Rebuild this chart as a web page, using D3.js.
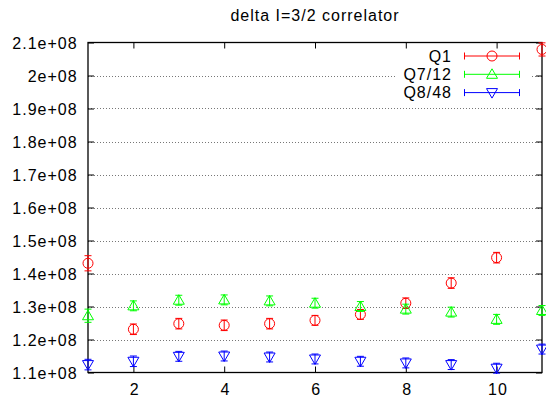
<!DOCTYPE html>
<html>
<head>
<meta charset="utf-8">
<script src="https://cdn.jsdelivr.net/npm/d3@7"></script>
<style>
  body { margin: 0; background: #fff; }
  text { font-family: "Liberation Sans", Arial, sans-serif; font-size: 16px; letter-spacing: 1px; fill: #000; }
</style>
</head>
<body>
<div id="chart"></div>
<script>
// data
var xs = [1, 2, 3, 4, 5, 6, 7, 8, 9, 10, 11];
var q1 = [1.431e8, 1.231e8, 1.248e8, 1.243e8, 1.248e8, 1.258e8, 1.276e8, 1.310e8, 1.371e8, 1.448e8, 2.079e8];
var q1Err = [2.3e6, 1.6e6, 1.6e6, 1.6e6, 1.6e6, 1.5e6, 1.5e6, 1.6e6, 1.6e6, 1.6e6, 2.0e6];
var q7 = [1.272e8, 1.302e8, 1.319e8, 1.320e8, 1.317e8, 1.310e8, 1.300e8, 1.292e8, 1.283e8, 1.261e8, 1.288e8];
var q7Err = [2.0e6, 1.5e6, 1.5e6, 1.5e6, 1.5e6, 1.5e6, 1.5e6, 1.5e6, 1.5e6, 1.5e6, 1.5e6];
var q8 = [1.124e8, 1.134e8, 1.149e8, 1.150e8, 1.147e8, 1.141e8, 1.134e8, 1.129e8, 1.124e8, 1.113e8, 1.171e8];
var q8Err = [1.6e6, 1.6e6, 1.5e6, 1.5e6, 1.5e6, 1.5e6, 1.5e6, 1.5e6, 1.5e6, 1.5e6, 1.5e6];

var seriesNames = ["Q1", "Q7/12", "Q8/48"];
var seriesColors = ["#ff0000", "#00ff00", "#0000ff"];
var xTicks = [2, 4, 6, 8, 10];
var yTicks = [1.1e8, 1.2e8, 1.3e8, 1.4e8, 1.5e8, 1.6e8, 1.7e8, 1.8e8, 1.9e8, 2.0e8, 2.1e8];
var yTickLabels = ["1.1e+08", "1.2e+08", "1.3e+08", "1.4e+08", "1.5e+08", "1.6e+08", "1.7e+08", "1.8e+08", "1.9e+08", "2e+08", "2.1e+08"];
var title = "delta I=3/2 correlator";

(function() {
var width = 546, height = 399;
var pLeft = 88, pRight = 542, pTop = 42.5, pBottom = 372.5;

var x = d3.scaleLinear().domain([1, 11]).range([pLeft, pRight]);
var y = d3.scaleLinear().domain([1.1e8, 2.1e8]).range([pBottom, pTop]);

var svg = d3.select("#chart").append("svg")
    .attr("width", width)
    .attr("height", height);

// grid lines
svg.append("g")
    .selectAll("line")
    .data(yTicks.slice(1, -1))
    .enter().append("line")
    .attr("x1", pLeft).attr("x2", pRight)
    .attr("y1", function(d) { return Math.round(y(d)) + 0.5; })
    .attr("y2", function(d) { return Math.round(y(d)) + 0.5; })
    .attr("stroke", "#777")
    .attr("stroke-dasharray", "1,2");

// key background (covers the grid)
svg.append("rect")
    .attr("x", 396).attr("y", 47)
    .attr("width", 134).attr("height", 54)
    .attr("fill", "#fff");

// axes
var yLeft = d3.axisLeft(y).tickValues(yTicks)
    .tickFormat(function(d, i) { return yTickLabels[i]; })
    .tickSizeInner(-6).tickSizeOuter(0).tickPadding(12);
var yRight = d3.axisRight(y).tickValues(yTicks).tickFormat("")
    .tickSizeInner(-6).tickSizeOuter(0);
var xBottom = d3.axisBottom(x).tickValues(xTicks).tickFormat(d3.format("d"))
    .tickSizeInner(-6).tickSizeOuter(0).tickPadding(11);
var xTop = d3.axisTop(x).tickValues(xTicks).tickFormat("")
    .tickSizeInner(-6).tickSizeOuter(0);

function styleAxis(g) {
    g.select(".domain").remove();
    g.selectAll("line").attr("stroke", "#000");
    g.selectAll("text").attr("font-family", null).attr("font-size", null).attr("fill", "#000");
}

svg.append("g").attr("transform", "translate(" + pLeft + ",0)").call(yLeft).call(styleAxis)
    .selectAll("text").attr("dy", "0.36em").attr("dx", "0.1em");
svg.append("g").attr("transform", "translate(" + pRight + ",0)").call(yRight).call(styleAxis);
svg.append("g").attr("transform", "translate(0," + pBottom + ")").call(xBottom).call(styleAxis)
    .selectAll("text").attr("dy", "0.71em").attr("dx", "0.05em");
svg.append("g").attr("transform", "translate(0," + pTop + ")").call(xTop).call(styleAxis);

// border
svg.append("rect")
    .attr("x", pLeft).attr("y", pTop)
    .attr("width", pRight - pLeft).attr("height", pBottom - pTop)
    .attr("fill", "none").attr("stroke", "#000").attr("stroke-width", 1.3);

// title
svg.append("text")
    .attr("x", 315).attr("y", 21)
    .attr("text-anchor", "middle")
    .text(title);

// marker shapes
function marker(kind) {
    if (kind === 0) return d3.symbol().type(d3.symbolCircle).size(Math.PI * 25)();
    if (kind === 1) return "M0,-5.5L5.5,4L-5.5,4Z";
    return "M0,5.5L5.5,-4L-5.5,-4Z";
}

var series = [
    { values: q1, errs: q1Err },
    { values: q7, errs: q7Err },
    { values: q8, errs: q8Err }
];

series.forEach(function(s, k) {
    var g = svg.append("g")
        .attr("stroke", seriesColors[k])
        .attr("fill", "none")
        .attr("stroke-width", 1);
    var pts = g.selectAll("g.pt")
        .data(xs.map(function(xv, i) { return { x: xv, v: s.values[i], e: s.errs[i] }; }))
        .enter().append("g").attr("class", "pt");
    pts.append("line")
        .attr("x1", function(d) { return x(d.x); })
        .attr("x2", function(d) { return x(d.x); })
        .attr("y1", function(d) { return y(d.v + d.e); })
        .attr("y2", function(d) { return y(d.v - d.e); });
    pts.append("line")
        .attr("x1", function(d) { return x(d.x) - 3.5; })
        .attr("x2", function(d) { return x(d.x) + 3.5; })
        .attr("y1", function(d) { return y(d.v + d.e); })
        .attr("y2", function(d) { return y(d.v + d.e); });
    pts.append("line")
        .attr("x1", function(d) { return x(d.x) - 3.5; })
        .attr("x2", function(d) { return x(d.x) + 3.5; })
        .attr("y1", function(d) { return y(d.v - d.e); })
        .attr("y2", function(d) { return y(d.v - d.e); });
    pts.append("path")
        .attr("d", marker(k))
        .attr("transform", function(d) { return "translate(" + x(d.x) + "," + y(d.v) + ")"; });
});

// key
var keyRows = [56, 74.3, 92.6];
seriesNames.forEach(function(name, k) {
    var ky = keyRows[k];
    svg.append("text")
        .attr("x", 452).attr("y", ky + 5.8)
        .attr("text-anchor", "end")
        .text(name);
    var g = svg.append("g").attr("stroke", seriesColors[k]).attr("fill", "none");
    g.append("line").attr("x1", 464).attr("x2", 520).attr("y1", ky).attr("y2", ky);
    g.append("line").attr("x1", 464.5).attr("x2", 464.5).attr("y1", ky - 3.5).attr("y2", ky + 3.5);
    g.append("line").attr("x1", 519.5).attr("x2", 519.5).attr("y1", ky - 3.5).attr("y2", ky + 3.5);
    g.append("path").attr("d", marker(k)).attr("transform", "translate(492," + ky + ")");
});
})();
</script>
</body>
</html>
